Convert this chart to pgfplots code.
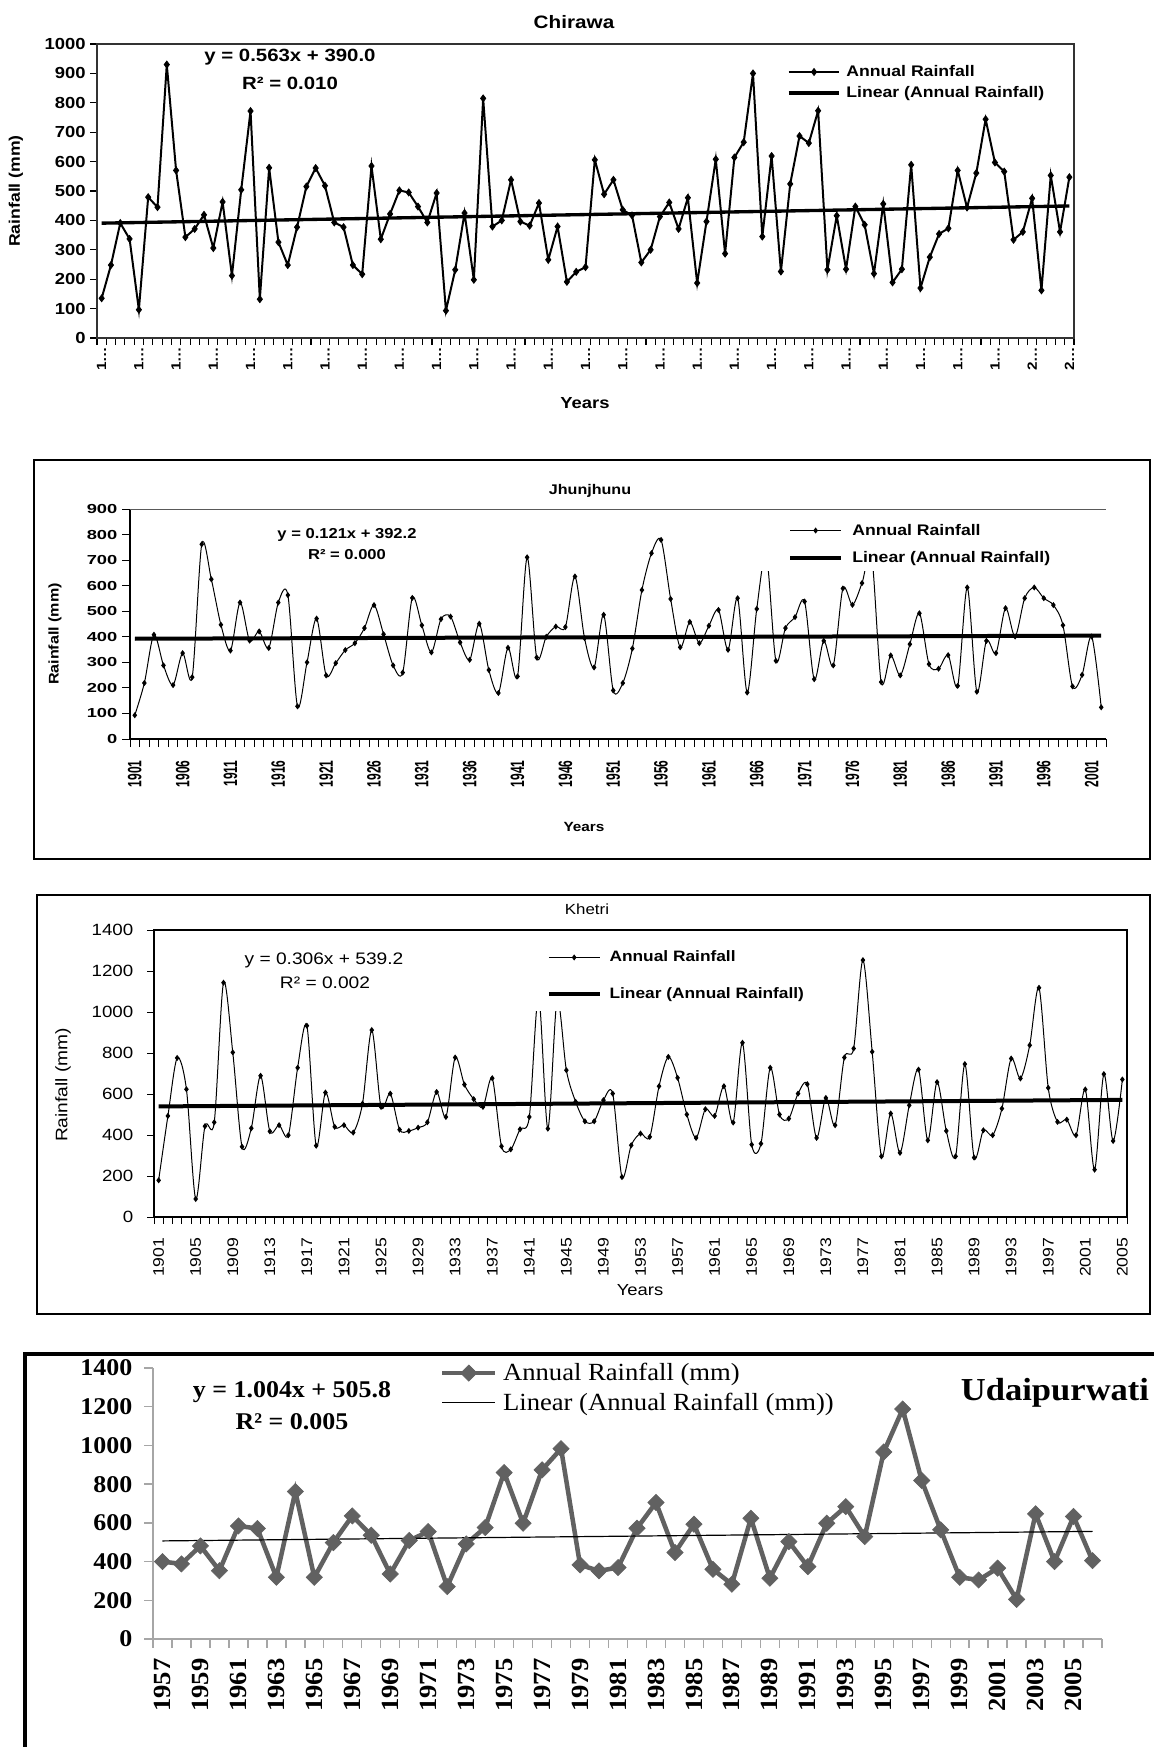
\documentclass[border=0pt]{standalone}
\usepackage{fontspec}
\setmainfont{Liberation Sans}[FakeStretch=1.15]
\newfontfamily\wideF{Liberation Sans}[FakeStretch=1.4]
\newfontfamily\narrowF{Liberation Sans}[FakeStretch=0.62]
\newfontfamily\tnr{Liberation Serif}[FakeStretch=1.08]
\usepackage{pgfplots}
\pgfplotsset{compat=1.18}
\usepackage{pgfplotstable}
\newcommand\fs[1]{\fontsize{#1}{#1}\selectfont}

\pgfplotstableread[row sep=crcr,header=false]{135\\248\\391\\337\\96\\479\\445\\930\\570\\343\\371\\419\\306\\463\\212\\504\\772\\132\\579\\326\\248\\377\\515\\578\\518\\393\\377\\248\\217\\585\\336\\422\\502\\495\\447\\393\\493\\93\\232\\425\\198\\815\\379\\400\\538\\396\\382\\459\\266\\379\\191\\225\\241\\606\\489\\538\\436\\417\\257\\300\\413\\461\\371\\477\\187\\396\\608\\287\\614\\666\\900\\345\\619\\226\\524\\687\\663\\773\\232\\416\\234\\447\\385\\219\\456\\189\\234\\589\\170\\275\\354\\373\\570\\444\\561\\744\\597\\566\\334\\361\\475\\162\\553\\361\\547\\}\chirawa

\pgfplotstableread[row sep=crcr,header=false]{93\\219\\408\\288\\211\\336\\242\\762\\625\\447\\346\\534\\385\\421\\356\\534\\563\\128\\300\\471\\249\\297\\348\\375\\434\\524\\410\\288\\260\\552\\445\\339\\469\\479\\378\\310\\451\\270\\180\\357\\245\\711\\319\\400\\440\\438\\636\\395\\280\\486\\190\\219\\354\\583\\727\\779\\548\\359\\458\\375\\443\\505\\349\\551\\182\\509\\720\\306\\434\\477\\538\\234\\384\\288\\589\\525\\610\\720\\223\\327\\249\\371\\492\\293\\275\\328\\208\\593\\185\\384\\336\\512\\401\\551\\593\\551\\524\\445\\206\\251\\401\\124\\}\jhunjhunu

\pgfplotstableread[row sep=crcr,header=false]{179\\493\\776\\623\\88\\443\\462\\1143\\803\\343\\433\\689\\418\\448\\399\\728\\933\\348\\607\\440\\448\\412\\553\\912\\537\\602\\426\\420\\436\\462\\610\\488\\778\\646\\575\\537\\677\\345\\330\\428\\488\\1080\\431\\1060\\716\\562\\467\\467\\570\\602\\195\\350\\407\\391\\638\\781\\679\\500\\386\\526\\493\\638\\461\\850\\353\\358\\728\\500\\480\\602\\648\\386\\581\\448\\778\\822\\1253\\806\\296\\505\\313\\545\\719\\374\\658\\420\\296\\746\\290\\423\\399\\529\\773\\676\\838\\1118\\630\\464\\475\\399\\622\\231\\697\\371\\671\\}\khetri

\pgfplotstableread[row sep=crcr,header=false]{400\\388\\481\\353\\584\\571\\319\\762\\319\\498\\636\\536\\336\\509\\555\\271\\491\\576\\860\\598\\874\\983\\383\\352\\369\\572\\705\\447\\593\\360\\283\\624\\314\\503\\374\\598\\684\\529\\966\\1188\\819\\564\\319\\305\\366\\205\\647\\400\\633\\405\\}\udaipurwati

\begin{document}
\begin{tikzpicture}

% ---------------- Chirawa ----------------
\begin{axis}[
 scale only axis, anchor=south west, at={(72.75pt,-253.5pt)},
 width=732.75pt, height=220.5pt,
 xmin=0.5, xmax=105.5, ymin=0, ymax=1000,
 axis line style={draw=black!80, line width=1.5pt},
 tick align=outside, major tick length=0pt, minor tick length=5pt,
 tick style={black, line width=0.8pt}, tick pos=left,
 xtick={1,5,...,105},
 xticklabels={1…,1…,1…,1…,1…,1…,1…,1…,1…,1…,1…,1…,1…,1…,1…,1…,1…,1…,1…,1…,1…,1…,1…,1…,1…,2…,2…},
 minor xtick={0.5,1.5,...,105.5},
 ytick={0,100,...,1000},
 yticklabels={0,100,200,300,400,500,600,700,800,900,1000},
 minor ytick={0,100,...,1000},
 xticklabel style={yshift=-3pt, rotate=90, anchor=east, font=\fs{10}\bfseries},
 yticklabel style={xshift=-5pt, font=\fs{12}\bfseries},
 legend style={at={(0.706,0.928)}, anchor=north west, draw=none, fill=none, inner sep=0pt, row sep=6pt, column sep=4pt, font=\fs{11.5}\bfseries, nodes={inner sep=0pt}},
 legend cell align=left,
 legend image code/.code={\draw[mark repeat=2,mark phase=2,#1] plot coordinates {(0pt,0pt) (19pt,0pt) (38pt,0pt)};},
]
\addplot[black, line width=1.5pt, mark=diamond*, mark size=2.6pt, mark options={line width=0.6pt}] table[x expr=\coordindex+1, y index=0]{\chirawa};
\addlegendentry{Annual Rainfall}
\addplot[black, line width=2.5pt] coordinates {(1,390.6) (105,449.1)};
\addlegendentry{Linear (Annual Rainfall)}
\end{axis}

% ---------------- Jhunjhunu ----------------
\begin{axis}[
 scale only axis, anchor=south west, at={(97.5pt,-554.25pt)},
 width=732pt, height=172.5pt,
 xmin=0.5, xmax=102.5, ymin=0, ymax=900,
 axis lines*=left, axis line style={-, black, line width=1pt},
 tick align=outside, major tick length=0pt, minor tick length=6pt,
 tick style={black, line width=0.75pt},
 xtick={1,6,...,101},
 xticklabels={1901,1906,1911,1916,1921,1926,1931,1936,1941,1946,1951,1956,1961,1966,1971,1976,1981,1986,1991,1996,2001},
 minor xtick={0.5,1.5,...,102.5},
 ytick={0,100,...,900},
 yticklabels={0,100,200,300,400,500,600,700,800,900},
 minor ytick={0,100,...,900},
 xticklabel style={yshift=-12.5pt, rotate=90, anchor=east, font=\narrowF\fs{14.5}\bfseries},
 yticklabel style={xshift=-6pt, font=\wideF\fs{9.8}\bfseries},
 legend style={at={(0.6455,0.965)}, anchor=north west, draw=none, fill=white, inner xsep=21pt, inner ysep=5pt, row sep=10.5pt, column sep=7pt, font=\fs{11.5}\bfseries, nodes={inner sep=0pt}},
 legend cell align=left,
 legend image code/.code={\draw[mark repeat=2,mark phase=2,#1] plot coordinates {(0pt,0pt) (19pt,0pt) (38pt,0pt)};},
]
\addplot[black, line width=0.75pt, smooth, mark=diamond*, mark size=1.7pt] table[x expr=\coordindex+1, y index=0]{\jhunjhunu};
\addlegendentry{Annual Rainfall}
\addplot[black, line width=3pt] coordinates {(1,392.3) (102,404.5)};
\addlegendentry{Linear (Annual Rainfall)}
\draw[black!65, line width=1pt] (rel axis cs:0,1) -- (rel axis cs:1,1);
\end{axis}

% ---------------- Khetri ----------------
\begin{axis}[
 scale only axis, anchor=south west, at={(115.5pt,-912.75pt)},
 width=729.75pt, height=215.25pt,
 xmin=0.5, xmax=105.5, ymin=0, ymax=1400,
 axis line style={black, line width=1pt},
 tick align=outside, major tick length=0pt, minor tick length=5pt,
 tick style={black, line width=0.75pt}, tick pos=left,
 xtick={1,5,...,105},
 xticklabels={1901,1905,1909,1913,1917,1921,1925,1929,1933,1937,1941,1945,1949,1953,1957,1961,1965,1969,1973,1977,1981,1985,1989,1993,1997,2001,2005},
 minor xtick={0.5,1.5,...,105.5},
 ytick={0,200,...,1400},
 yticklabels={0,200,400,600,800,1000,1200,1400},
 minor ytick={0,200,...,1400},
 xticklabel style={yshift=-12pt, rotate=90, anchor=east, font=\fs{11.5}},
 yticklabel style={xshift=-12pt, font=\fs{12.2}},
 legend style={at={(0.386,0.965)}, anchor=north west, draw=none, fill=white, inner xsep=12.75pt, inner ysep=8pt, row sep=18pt, column sep=6pt, font=\fs{11.3}\bfseries, nodes={inner sep=0pt}},
 legend cell align=left,
 legend image code/.code={\draw[mark repeat=2,mark phase=2,#1] plot coordinates {(0pt,0pt) (19pt,0pt) (38pt,0pt)};},
]
\addplot[black, line width=0.75pt, smooth, mark=diamond*, mark size=1.7pt] table[x expr=\coordindex+1, y index=0]{\khetri};
\addlegendentry{Annual Rainfall}
\addplot[black, line width=3pt] coordinates {(1,539.5) (105,571.3)};
\addlegendentry{Linear (Annual Rainfall)}
\end{axis}

% ---------------- Udaipurwati ----------------
\begin{axis}[
 scale only axis, anchor=south west, at={(114.75pt,-1229.25pt)},
 width=711.75pt, height=203.25pt,
 xmin=0.5, xmax=50.5, ymin=0, ymax=1400,
 axis lines*=left, axis line style={-, draw=black!35, line width=1pt},
 tick align=outside, major tick length=0pt, minor tick length=6.5pt,
 tick style={black!35, line width=1pt},
 xtick={1,3,...,49},
 xticklabels={1957,1959,1961,1963,1965,1967,1969,1971,1973,1975,1977,1979,1981,1983,1985,1987,1989,1991,1993,1995,1997,1999,2001,2003,2005},
 minor xtick={0.5,1.5,...,50.5},
 ytick={0,200,...,1400},
 yticklabels={0,200,400,600,800,1000,1200,1400},
 minor ytick={0,200,...,1400},
 xticklabel style={yshift=-11pt, rotate=90, anchor=east, font=\tnr\fs{18.5}\bfseries},
 yticklabel style={xshift=-12pt, font=\tnr\fs{18}\bfseries},
 legend style={at={(0.302,1.018)}, anchor=north west, draw=none, fill=none, inner sep=0pt, row sep=7.5pt, column sep=4pt, font=\tnr\fs{18.5}, nodes={inner sep=0pt}},
 legend cell align=left,
 legend image code/.code={\draw[mark repeat=2,mark phase=2,#1] plot coordinates {(0pt,0pt) (20pt,0pt) (40pt,0pt)};},
]
\addplot[color=black!62, line width=3.4pt, mark=square*, mark size=4.3pt, mark options={rotate=45, fill=black!62, draw=black!62, line width=0.5pt}] table[x expr=\coordindex+1, y index=0]{\udaipurwati};
\addlegendentry{Annual Rainfall (mm)}
\addplot[black, line width=0.9pt] coordinates {(1,506.8) (50,556.0)};
\addlegendentry{Linear (Annual Rainfall (mm))}
\end{axis}

% ---------------- text and frames (px units) ----------------
\begin{scope}[x=0.75pt,y=-0.75pt]
% Chirawa
\node[font=\fs{13.5}\bfseries] at (574,22) {Chirawa};
\node[font=\fs{13.3}\bfseries] at (290,57) {y = 0.563x + 390.0};
\node[font=\fs{13.3}\bfseries] at (290,83) {R² = 0.010};
\node[font=\fs{11.5}\bfseries, rotate=90] at (16,191) {Rainfall (mm)};
\node[font=\fs{12}\bfseries] at (585,403) {Years};
% Jhunjhunu
\draw[line width=1.5pt] (34,460) rectangle (1150,859);
\node[font=\fs{10.5}\bfseries] at (590,491) {Jhunjhunu};
\node[font=\fs{10.8}\bfseries] at (347,535) {y = 0.121x + 392.2};
\node[font=\fs{10.8}\bfseries] at (347,555) {R² = 0.000};
\node[font=\fs{10.5}\bfseries, rotate=90] at (55,634) {Rainfall (mm)};
\node[font=\fs{10}\bfseries] at (584,827) {Years};
% Khetri
\draw[line width=1.5pt] (37,895) rectangle (1150,1314);
\node[font=\fs{11}] at (587,909) {Khetri};
\node[font=\fs{12.5}] at (324,960) {y = 0.306x + 539.2};
\node[font=\fs{12.5}] at (325,983) {R² = 0.002};
\node[font=\fs{12.5}, rotate=90] at (63,1085) {Rainfall (mm)};
\node[font=\fs{12}] at (640,1290) {Years};
% Udaipurwati
\draw[line width=3pt] (25,1760) -- (25,1354) -- (1160,1354);
\node[font=\tnr\fs{24}\bfseries] at (1055,1393) {Udaipurwati};
\node[font=\tnr\fs{18}\bfseries] at (292,1392) {y = 1.004x + 505.8};
\node[font=\tnr\fs{18}\bfseries] at (292,1422) {R² = 0.005};
\end{scope}

\pgfresetboundingbox
\path[use as bounding box] (0pt,0pt) rectangle (864.75pt,-1310.25pt);
\end{tikzpicture}
\end{document}
